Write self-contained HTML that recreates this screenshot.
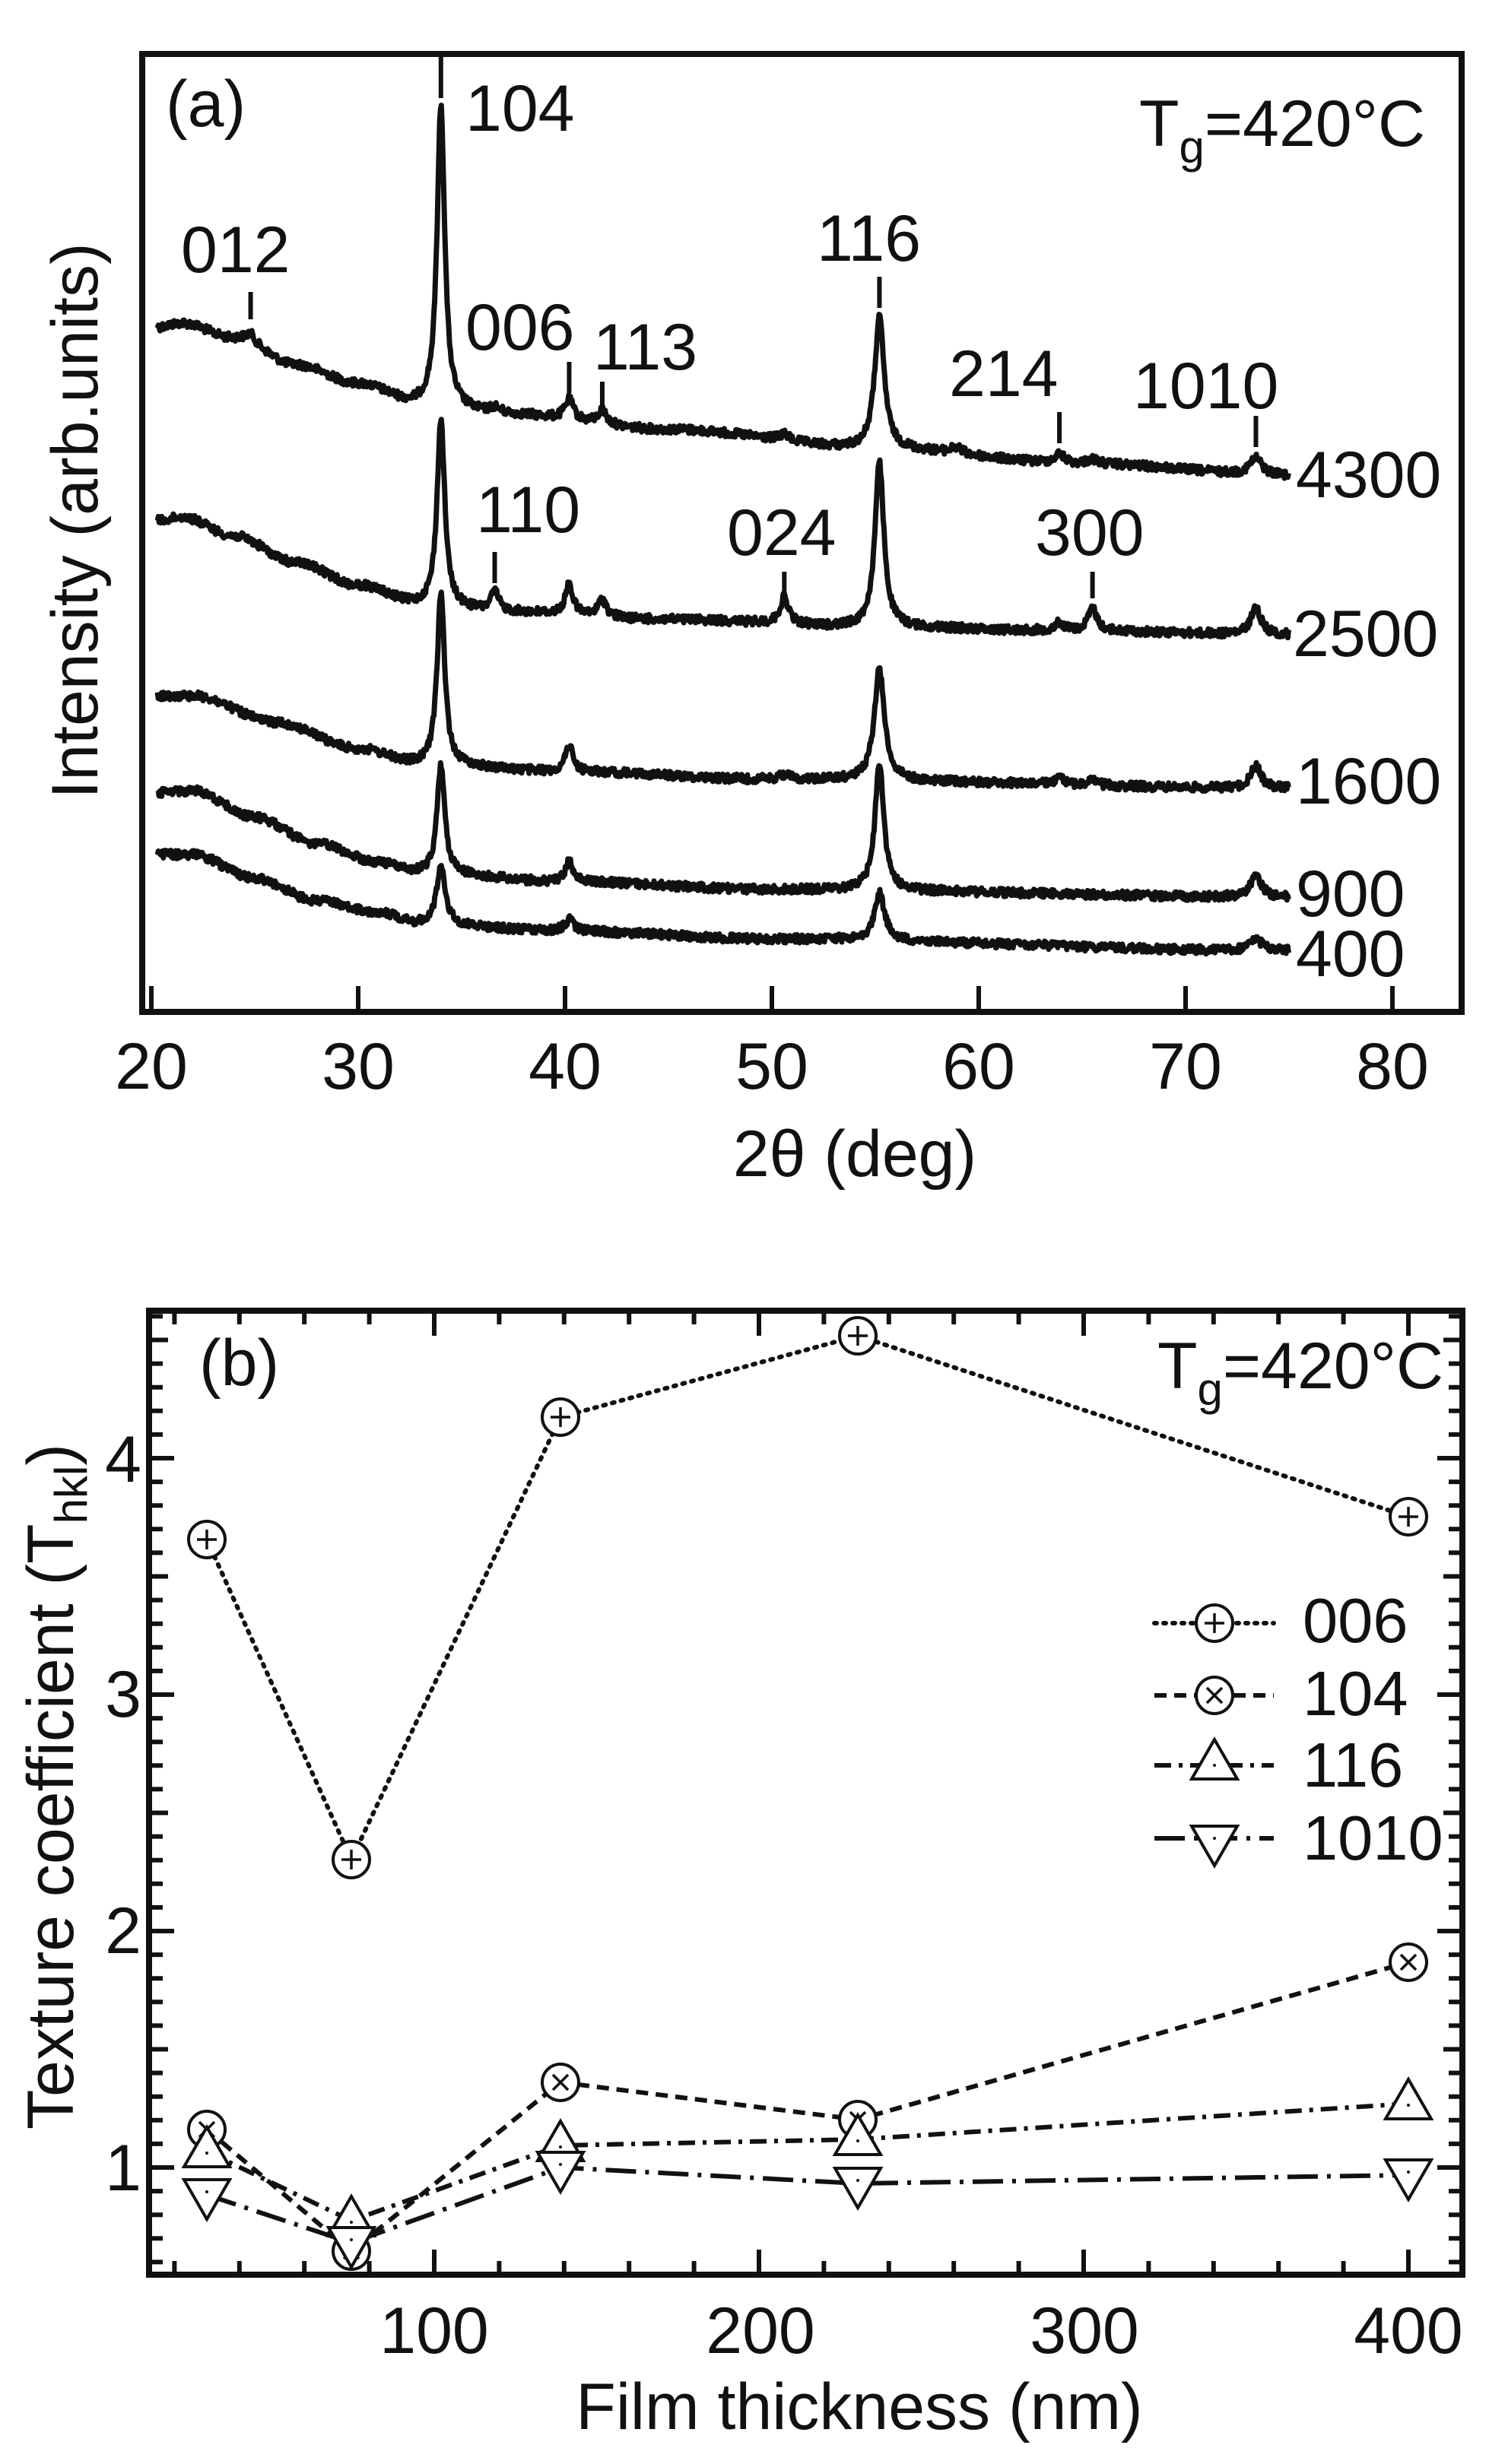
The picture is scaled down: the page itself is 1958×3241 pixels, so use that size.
<!DOCTYPE html>
<html><head><meta charset="utf-8"><style>
html,body{margin:0;padding:0;background:#fff;width:1958px;height:3241px;overflow:hidden}
svg text{font-family:"Liberation Sans",Arial,sans-serif;fill:#111}
</style></head><body>
<svg id="s" width="1958" height="3241" viewBox="0 0 1958 3241" xmlns="http://www.w3.org/2000/svg">
<g font-size="86">
<!-- Panel a -->
<rect x="187" y="71" width="1735" height="1260" fill="none" stroke="#111" stroke-width="8"/>
<text x="218" y="166">(a)</text>
<text x="612" y="172">104</text>
<text x="1498" y="192">T<tspan font-size="60" dy="22">g</tspan><tspan dy="-22">=420°C</tspan></text>
<text x="238" y="358">012</text>
<text x="612" y="460">006</text>
<text x="780" y="486">113</text>
<text x="1074" y="343">116</text>
<text x="1248" y="521">214</text>
<text x="1490" y="537">1010</text>
<text x="626" y="700">110</text>
<text x="956" y="730">024</text>
<text x="1361" y="730">300</text>
<text x="1704" y="654">4300</text>
<text x="1700" y="863">2500</text>
<text x="1704" y="1057">1600</text>
<text x="1704" y="1205">900</text>
<text x="1704" y="1284">400</text>
<g text-anchor="middle">
<text x="199" y="1432">20</text><text x="471" y="1432">30</text><text x="743" y="1432">40</text>
<text x="1015" y="1432">50</text><text x="1287" y="1432">60</text><text x="1559" y="1432">70</text><text x="1831" y="1432">80</text>
<text x="1124" y="1547">2θ (deg)</text>
<text transform="translate(128,685) rotate(-90)">Intensity (arb.units)</text>
</g>
<g id="ticksA" stroke="#111" stroke-width="6"></g>
<g id="dashA" stroke="#111" stroke-width="6"></g>
<g id="curves" fill="none" stroke="#111" stroke-width="7" stroke-linejoin="round"></g>

<!-- Panel b -->
<rect x="196" y="1724" width="1727" height="1268" fill="none" stroke="#111" stroke-width="8"/>
<g id="ticksB" stroke="#111" stroke-width="6"></g>
<text x="262" y="1822">(b)</text>
<text x="1522" y="1826">T<tspan font-size="60" dy="22">g</tspan><tspan dy="-22">=420°C</tspan></text>
<g text-anchor="end">
<text x="186" y="1949">4</text><text x="186" y="2258">3</text><text x="186" y="2569">2</text><text x="186" y="2881">1</text>
</g>
<g text-anchor="middle">
<text x="571" y="3095">100</text><text x="1000" y="3095">200</text><text x="1426" y="3095">300</text><text x="1852" y="3095">400</text>
<text x="1130" y="3195">Film thickness (nm)</text>
<text transform="translate(96,2350) rotate(-90)">Texture coefficient (T<tspan font-size="60" dy="18">hkl</tspan><tspan dy="-18">)</tspan></text>
</g>
<g id="series" fill="none" stroke="#111"></g>
<g font-size="83">
<text x="1713" y="2160">006</text><text x="1713" y="2256">104</text><text x="1713" y="2350">116</text><text x="1713" y="2446">1010</text>
</g>
</g>
</svg>
<script>
var NS="http://www.w3.org/2000/svg";
function el(p,t,a){var e=document.createElementNS(NS,t);for(var k in a)e.setAttribute(k,a[k]);p.appendChild(e);return e;}
function X(d){return 199+(d-20)*27.2;}
var tA=document.getElementById('ticksA');
for(var d=20;d<=80;d+=10){el(tA,'line',{x1:X(d),x2:X(d),y1:1331,y2:1297});}
var dA=document.getElementById('dashA');
[[24.8,384,420],[34,73,129],[40.2,476,517],[41.8,502,537],[55.2,364,405],[63.9,542,583],[73.4,547,588],[36.6,726,767],[50.6,752,787],[65.5,752,787]].forEach(function(p){el(dA,'line',{x1:X(p[0]),x2:X(p[0]),y1:p[1],y2:p[2]});});
var seed=12345;function rnd(){seed=(seed*1103515245+12345)%2147483648;return seed/2147483648;}
function interp(pts,d){if(d<=pts[0][0])return pts[0][1];for(var i=1;i<pts.length;i++){if(d<=pts[i][0]){var a=pts[i-1],b=pts[i],t=(d-a[0])/(b[0]-a[0]);t=t*t*(3-2*t);return a[1]+(b[1]-a[1])*t;}}return pts[pts.length-1][1];}
var C=[
 {bg:[[20.3,430],[21.5,425],[24,445],[27,480],[30,505],[33,532],[37,545],[45,565],[55,590],[65,610],[75,625]],
  pk:[[34,398,0.22],[24.8,12,0.3],[36.6,8,0.3],[40.2,26,0.25],[41.8,18,0.25],[50.6,8,0.3],[55.2,172,0.28],[58.9,8,0.3],[63.9,12,0.3],[65.5,6,0.3],[73.4,22,0.35]]},
 {bg:[[20.3,685],[21.5,680],[24,705],[27,740],[30,770],[33,795],[37,805],[45,815],[55,825],[65,830],[75,835]],
  pk:[[34,247,0.22],[36.6,25,0.25],[40.2,40,0.22],[41.8,22,0.25],[50.6,35,0.25],[55.2,216,0.26],[63.9,10,0.3],[65.5,30,0.25],[73.4,35,0.3]]},
 {bg:[[20.3,915],[22,915],[26,950],[30,985],[33,1005],[40,1015],[50,1025],[75,1037]],
  pk:[[34,226,0.22],[40.2,35,0.22],[50.6,6,0.3],[55.2,146,0.3],[63.9,8,0.3],[65.5,6,0.3],[73.4,30,0.3]]},
 {bg:[[20.3,1042],[22,1040],[25,1075],[28,1110],[31,1135],[33,1148],[40,1160],[50,1170],[75,1180]],
  pk:[[34,144,0.22],[40.2,28,0.22],[55.2,166,0.26],[73.4,30,0.3]]},
 {bg:[[20.3,1124],[22,1124],[25,1155],[28,1185],[31,1200],[33,1215],[40,1225],[50,1235],[75,1251]],
  pk:[[34,78,0.25],[40.2,15,0.28],[55.2,62,0.3],[73.4,15,0.4]]}
];
var cg=document.getElementById('curves');
C.forEach(function(c){var s='';for(var d=20.3;d<=75.0001;d+=0.04){var y=interp(c.bg,d);c.pk.forEach(function(p){var u=(d-p[0])/p[2];y-=p[1]/(1+u*u);});y+=(rnd()-0.5)*11;s+=(s?'L':'M')+X(d).toFixed(1)+' '+y.toFixed(1);}el(cg,'path',{d:s});});
var tB=document.getElementById('ticksB');
function Y(v){return 2851-(v-1)*311;}
for(var i=6;i<=46;i++){var v=i/10,y=Y(v);if(y<1730||y>2988)continue;var L=(i%10==0)?33:((i%5==0)?25:18);
 el(tB,'line',{x1:196,x2:196+L,y1:y,y2:y});el(tB,'line',{x1:1923,x2:1923-L,y1:y,y2:y});}
function TX(t){return 571+(t-100)*4.27;}
for(var t=20;t<=400;t+=20){var x=TX(t),L=(t%100==0)?33:18;el(tB,'line',{x1:x,x2:x,y1:2992,y2:2992-L});el(tB,'line',{x1:x,x2:x,y1:1724,y2:1724+L});}
var xs=[272,462,737,1128,1852];
var S=[
 {y:[2025,2446,1864,1757,1995],dash:'3 9',cap:'round',m:'plus'},
 {y:[2801,2961,2739,2788,2581],dash:'16 10',cap:'butt',m:'x'},
 {y:[2830,2921,2822,2814,2767],dash:'22 10 5 10',cap:'butt',m:'up'},
 {y:[2887,2950,2851,2872,2861],dash:'40 12 5 12',cap:'butt',m:'down'}
];
var sg=document.getElementById('series');
function marker(x,y,m){
 if(m=='plus'||m=='x'){el(sg,'circle',{cx:x,cy:y,r:24,fill:'#fff','stroke-width':4});
  if(m=='plus'){el(sg,'path',{d:'M'+(x-13)+' '+y+'H'+(x+13)+'M'+x+' '+(y-13)+'V'+(y+13),'stroke-width':3.5});}
  else{el(sg,'path',{d:'M'+(x-10)+' '+(y-10)+'L'+(x+10)+' '+(y+10)+'M'+(x+10)+' '+(y-10)+'L'+(x-10)+' '+(y+10),'stroke-width':3.5});}}
 else if(m=='up'){el(sg,'path',{d:'M'+x+' '+(y-32)+'L'+(x+30)+' '+(y+20)+'L'+(x-30)+' '+(y+20)+'Z',fill:'#fff','stroke-width':4});el(sg,'circle',{cx:x,cy:y+2,r:2,fill:'#111',stroke:'none'});}
 else{el(sg,'path',{d:'M'+(x-30)+' '+(y-20)+'L'+(x+30)+' '+(y-20)+'L'+x+' '+(y+32)+'Z',fill:'#fff','stroke-width':4});el(sg,'circle',{cx:x,cy:y-4,r:2,fill:'#111',stroke:'none'});}
}
S.forEach(function(s){var d='';for(var i=0;i<5;i++)d+=(i?'L':'M')+xs[i]+' '+s.y[i];el(sg,'path',{d:d,'stroke-width':6,'stroke-dasharray':s.dash,'stroke-linecap':s.cap});});
S.forEach(function(s){for(var i=0;i<5;i++)marker(xs[i],s.y[i],s.m);});
var ly=[2135,2230,2322,2418];
S.forEach(function(s,i){el(sg,'path',{d:'M1518 '+ly[i]+'H1675','stroke-width':6,'stroke-dasharray':s.dash,'stroke-linecap':s.cap});marker(1597,ly[i]+(s.m=='up'?-2:(s.m=='down'?4:0)),s.m);});
</script>
</body></html>
